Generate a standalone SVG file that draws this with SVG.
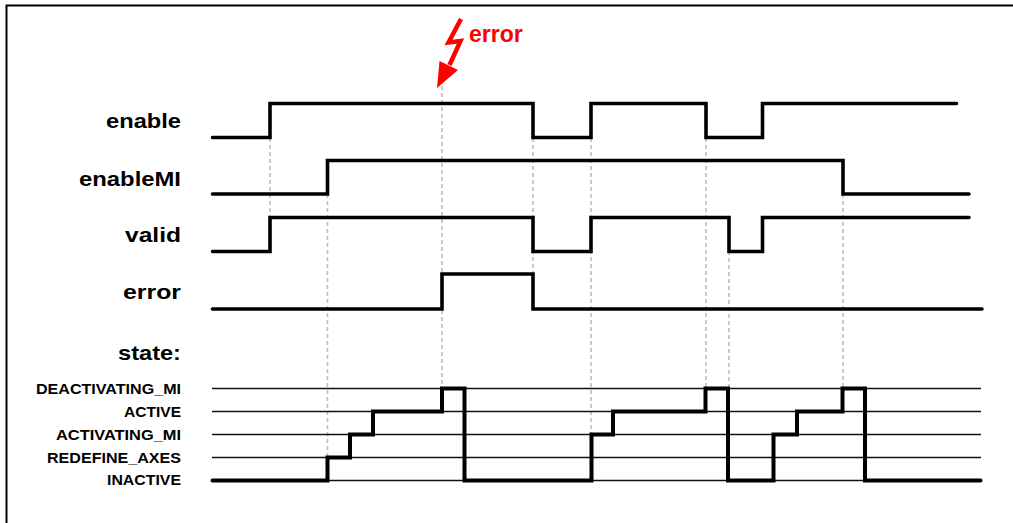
<svg xmlns="http://www.w3.org/2000/svg" width="1013" height="523" viewBox="0 0 1013 523">
  <style>
    .lbl { font-family: "Liberation Sans", Arial, sans-serif; font-weight: bold; font-size: 21px; fill: #000; text-anchor: end; }
    .slbl { font-family: "Liberation Sans", Arial, sans-serif; font-weight: bold; font-size: 15.5px; fill: #000; text-anchor: end; }
    .wave { fill: none; stroke: #000; stroke-width: 3.6; stroke-linecap: round; stroke-linejoin: miter; }
    .state { fill: none; stroke: #000; stroke-width: 4; stroke-linecap: round; stroke-linejoin: miter; }
    .level { stroke: #111; stroke-width: 1.3; fill: none; }
    .guide { stroke: #bdbdbd; stroke-width: 1.6; stroke-dasharray: 4 3; fill: none; }
    .frame { stroke: #000; stroke-width: 2; fill: none; }
  </style>

  <rect width="1013" height="523" fill="#fff"/>

  <!-- frame: top and left edges -->
  <path class="frame" d="M6.5,523 V5.5 H1013"/>

  <!-- dashed timing guides -->
  <g id="connectors">
    <line class="guide" x1="270" y1="138" x2="270" y2="251"/>
    <line class="guide" x1="327.5" y1="194" x2="327.5" y2="457"/>
    <line class="guide" x1="442" y1="86" x2="442" y2="388"/>
    <line class="guide" x1="533" y1="138" x2="533" y2="309"/>
    <line class="guide" x1="591" y1="138" x2="591" y2="434"/>
    <line class="guide" x1="706" y1="138" x2="706" y2="388"/>
    <line class="guide" x1="729" y1="251" x2="729" y2="388"/>
    <line class="guide" x1="843" y1="194" x2="843" y2="388"/>
  </g>

  <!-- error event marker -->
  <g id="error-event">
    <path d="M461,19 L448.5,42.5 L460.5,41 L449.5,65" fill="none" stroke="#ff0000" stroke-width="4.5" stroke-linejoin="miter"/>
    <polygon points="437,88 439.5,61 458,70" fill="#ff0000"/>
    <text x="469" y="42" font-family="Liberation Sans, Arial, sans-serif" font-weight="bold" font-size="23" fill="#ff0000">error</text>
  </g>

  <g id="sig-enable">
    <text class="lbl" x="181" y="128" textLength="75" lengthAdjust="spacingAndGlyphs">enable</text>
    <path class="wave" d="M212.5,137.5 H270 V103.5 H533 V137.5 H591 V103.5 H706 V137.5 H762.5 V103.5 H956.5"/>
  </g>

  <g id="sig-enableMI">
    <text class="lbl" x="181" y="186" textLength="102" lengthAdjust="spacingAndGlyphs">enableMI</text>
    <path class="wave" d="M212.5,194 H327.5 V160.5 H843 V194 H969"/>
  </g>

  <g id="sig-valid">
    <text class="lbl" x="181" y="242" textLength="56" lengthAdjust="spacingAndGlyphs">valid</text>
    <path class="wave" d="M212.5,251.5 H270 V217.5 H533 V251.5 H591 V217.5 H729 V251.5 H762.5 V217.5 H969"/>
  </g>

  <g id="sig-error">
    <text class="lbl" x="181" y="299" textLength="58" lengthAdjust="spacingAndGlyphs">error</text>
    <path class="wave" d="M212.5,309 H442 V274 H533 V309 H982"/>
  </g>

  <g id="sig-state">
    <text class="lbl" x="181" y="360" textLength="63" lengthAdjust="spacingAndGlyphs">state:</text>

    <text class="slbl" x="181" y="394" textLength="145" lengthAdjust="spacingAndGlyphs">DEACTIVATING_MI</text>
    <text class="slbl" x="181" y="417" textLength="57" lengthAdjust="spacingAndGlyphs">ACTIVE</text>
    <text class="slbl" x="181" y="440" textLength="125" lengthAdjust="spacingAndGlyphs">ACTIVATING_MI</text>
    <text class="slbl" x="181" y="463" textLength="134" lengthAdjust="spacingAndGlyphs">REDEFINE_AXES</text>
    <text class="slbl" x="181" y="485" textLength="74" lengthAdjust="spacingAndGlyphs">INACTIVE</text>

    <line class="level" x1="212" y1="388.5" x2="981" y2="388.5"/>
    <line class="level" x1="212" y1="411.5" x2="981" y2="411.5"/>
    <line class="level" x1="212" y1="434.5" x2="981" y2="434.5"/>
    <line class="level" x1="212" y1="457.5" x2="981" y2="457.5"/>
    <line class="level" x1="212" y1="480.5" x2="981" y2="480.5"/>

    <path class="state" d="M212.5,480.5 H327.5 V457.5 H350 V434.5 H373 V411.5 H442 V388.5 H464.5 V480.5 H591.5 V434.5 H613 V411.5 H705.5 V388.5 H728 V480.5 H773.5 V434.5 H797 V411.5 H842.5 V388.5 H865 V480.5 H980.5"/>
  </g>
</svg>
